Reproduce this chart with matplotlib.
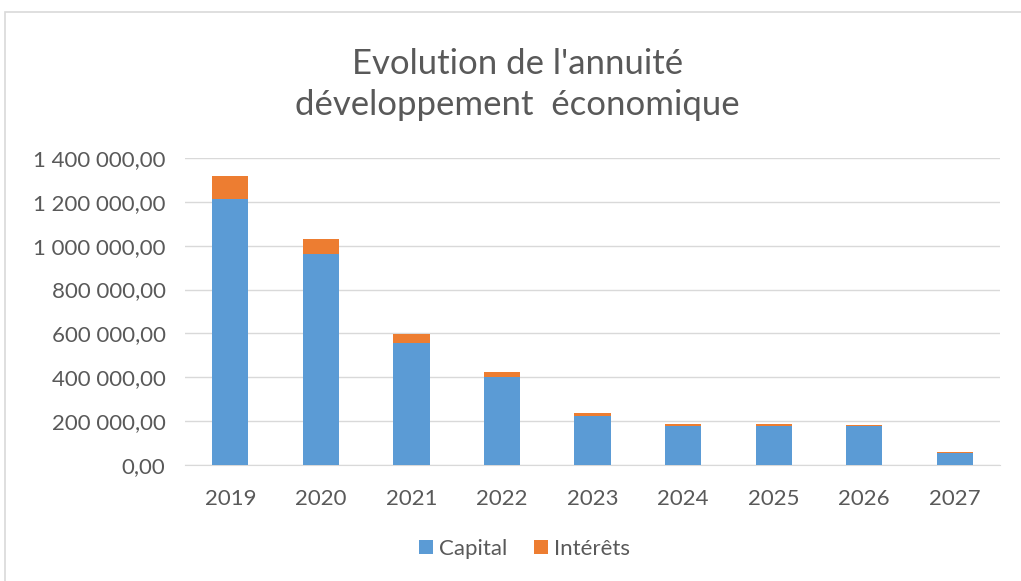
import matplotlib.pyplot as plt
from matplotlib.patches import Rectangle
from matplotlib.ticker import FuncFormatter

years = ['2019', '2020', '2021', '2022', '2023', '2024', '2025', '2026', '2027']
capital = [1212000, 961000, 557000, 402000, 225000, 180000, 180000, 179000, 55000]
interets = [106000, 69000, 41000, 23000, 11000, 9000, 5000, 5000, 5000]


def fmt(v, pos):
  s = '{:,.2f}'.format(v)
  return s.replace(',', ' ').replace('.', ',')


def main():
  plt.rcParams['font.family'] = ['Lato', 'DejaVu Sans']
  fig = plt.figure(figsize=(10.21, 5.81), dpi=100)
  fig.patches.append(Rectangle((5 / 1021, -0.05), 1.1, 1.05 - 12 / 581, transform=fig.transFigure,
                               facecolor='none', edgecolor='#d9d9d9', linewidth=1.2))
  ax = fig.add_axes([185 / 1021, 1 - 465 / 581, 815 / 1021, 307 / 581])

  x = range(len(years))
  ax.bar(x, capital, width=0.4, color='#5B9BD5', label='Capital', zorder=3)
  ax.bar(x, interets, width=0.4, bottom=capital, color='#ED7D31', label='Intérêts', zorder=3)

  ax.set_xlim(-0.5, len(years) - 0.5)
  ax.set_ylim(0, 1400000)
  ax.set_yticks(range(0, 1400001, 200000))
  ax.yaxis.set_major_formatter(FuncFormatter(fmt))
  ax.set_xticks(list(x))
  ax.set_xticklabels(years)
  ax.tick_params(axis='both', length=0, labelsize=16, labelcolor='#595959')
  ax.tick_params(axis='y', pad=14)
  ax.tick_params(axis='x', pad=17)
  ax.grid(axis='y', color='#d9d9d9', linewidth=1, zorder=0)
  for side in ['top', 'right', 'left']:
    ax.spines[side].set_visible(False)
  ax.spines['bottom'].set_color('#d9d9d9')

  fig.text(0.507, 1 - 64 / 581, "Evolution de l'annuité", ha='center', va='center',
           fontsize=25, color='#595959')
  fig.text(0.507, 1 - 105 / 581, 'développement  économique', ha='center', va='center',
           fontsize=25, color='#595959')

  fig.legend(loc='center', bbox_to_anchor=(0.514, 1 - 549 / 581), ncol=2, frameon=False,
             fontsize=16, labelcolor='#595959', handlelength=0.6, handleheight=0.6,
             handletextpad=0.3, columnspacing=1.2)

  fig.savefig('out.png', dpi=100, facecolor='w')
  plt.close('all')


if __name__ == '__main__':
  main()
